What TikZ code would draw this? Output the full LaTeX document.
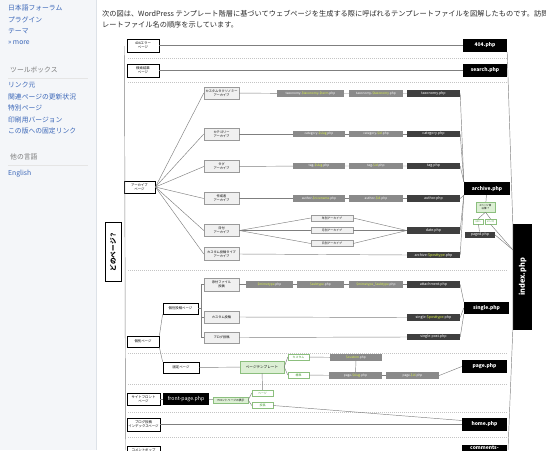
\documentclass[tikz,border=0pt]{standalone}
\usepackage{fontspec}
\setmainfont{Noto Sans CJK JP}
\usetikzlibrary{calc}

\definecolor{sidebg}{HTML}{F4F6F9}
\definecolor{sideline}{HTML}{DDE2E8}
\definecolor{linkblue}{HTML}{3A66B8}
\definecolor{headgray}{HTML}{7A7A7A}
\definecolor{introcolor}{HTML}{2A2A2A}
\definecolor{linegray}{HTML}{7F7F7F}
\definecolor{sepgray}{HTML}{C4C4C4}
\definecolor{tpldark}{HTML}{3F3F3F}
\definecolor{tplgray}{HTML}{8A8A8A}
\definecolor{varyellow}{HTML}{DDF54A}
\definecolor{subfill}{HTML}{F0F0F0}
\definecolor{subdraw}{HTML}{9A9A9A}
\definecolor{greenfill}{HTML}{DCEFD4}
\definecolor{greendraw}{HTML}{8CBF7E}
\definecolor{greentext}{HTML}{3F9A2E}

\newcommand\vpart[1]{\textcolor{varyellow}{#1}}

\tikzset{
	conn/.style={draw=linegray, line width=0.45pt},
	sep/.style={draw=sepgray, line width=0.5pt, dash pattern=on 1pt off 1pt},
	sidelink/.style={anchor=west, inner sep=0pt, text=linkblue, font=\fontsize{6.8}{8}\selectfont},
	sidehead/.style={anchor=west, inner sep=0pt, text=headgray, font=\fontsize{6.8}{8}\selectfont},
	introline/.style={anchor=west, inner sep=0pt, text=introcolor, font=\fontsize{7.2}{8}\selectfont},
	pagebox/.style={draw=black, line width=0.8pt, fill=white, minimum width=32, minimum height=13, inner sep=0pt, align=center, font=\fontsize{3.4}{3.9}\selectfont},
	tplbox/.style={fill=black, text=white, minimum width=45, minimum height=13, inner sep=0pt, font=\fontsize{5}{6}\selectfont\bfseries},
	subbox/.style={draw=subdraw, line width=0.4pt, fill=subfill, minimum width=35, minimum height=12, inner sep=0pt, align=center, font=\fontsize{3.2}{3.7}\selectfont},
	varbox/.style={fill=tplgray, text=white, minimum height=6.5, inner sep=0pt, font=\fontsize{3.2}{3.6}\selectfont},
	endbox/.style={fill=tpldark, text=white, minimum width=53, minimum height=6.5, inner sep=0pt, font=\fontsize{3.6}{4}\selectfont},
	choicebox/.style={draw=greendraw, line width=0.4pt, fill=greenfill, inner sep=0pt, align=center, font=\fontsize{3.2}{3.7}\selectfont},
	answer/.style={draw=greendraw, line width=0.4pt, fill=white, text=greentext, minimum width=21, minimum height=6, inner sep=0pt, font=\fontsize{2.9}{3.2}\selectfont},
}

\begin{document}
\begin{tikzpicture}[x=1pt, y=-1pt]
	\useasboundingbox (0, 0) rectangle (546, 450);
	\clip (0, 0) rectangle (546, 450);

	% side bar
	\fill[sidebg] (0, 0) rectangle (96, 450);
	\draw[sideline, line width=0.6pt] (96, 0) -- (96, 450);
	\draw (8, 8) 		node[sidelink] 	(lforum) 	{日本語フォーラム};
	\draw (8, 20) 		node[sidelink] 	(lplugin) 	{プラグイン};
	\draw (8, 31.5) 	node[sidelink] 	(ltheme) 	{テーマ};
	\draw (8, 43) 		node[sidelink] 	(lmore) 	{» more};
	\draw (10, 70) 		node[sidehead] 	(htools) 	{ツールボックス};
	\draw[gray!20, line width=0.4pt] (8, 78) -- (88, 78);
	\draw (8, 85) 		node[sidelink] 	(lwhat) 	{リンク元};
	\draw (8, 96.5) 	node[sidelink] 	(lrelated) 	{関連ページの更新状況};
	\draw (8, 108) 		node[sidelink] 	(lspecial) 	{特別ページ};
	\draw (8, 119.5) 	node[sidelink] 	(lprint) 	{印刷用バージョン};
	\draw (8, 131) 		node[sidelink] 	(lperma) 	{この版への固定リンク};
	\draw (10, 157) 	node[sidehead] 	(hlang) 	{他の言語};
	\draw[gray!20, line width=0.4pt] (8, 165) -- (88, 165);
	\draw (8, 174) 		node[sidelink] 	(lenglish) 	{English};

	% text above the chart
	\draw (102, 13.5) 	node[introline] (intro1) 	{次の図は、WordPress テンプレート階層に基づいてウェブページを生成する際に呼ばれるテンプレートファイルを図解したものです。訪問者が};
	\draw (102, 25) 	node[introline] (intro2) 	{レートファイル名の順序を示しています。};

	% separators
	\draw[sep] (128, 58) -- (507, 58);
	\draw[sep] (128, 82) -- (507, 82);
	\draw[sep] (128, 270) -- (507, 270);
	\draw[sep] (128, 353) -- (507, 353);
	\draw[sep] (128, 384) -- (507, 384);
	\draw[sep] (128, 412) -- (507, 412);
	\draw[sep] (128, 437) -- (507, 437);

	% left column
	\draw (113, 251.5) 	node[pagebox, rotate=90, minimum width=59, minimum height=16, font=\fontsize{6.6}{7}\selectfont\bfseries] (qwhich) {どのページ？};
	\draw (143, 45.5) 	node[pagebox] 	(p404) 		{404エラー\\ページ};
	\draw (143, 70.5) 	node[pagebox] 	(psearch) 	{検索結果\\ページ};
	\draw (139.5, 187) 	node[pagebox, minimum width=31, minimum height=12] (parchive) {アーカイブ\\ページ};
	\draw (143, 341.5) 	node[pagebox, minimum height=11] (psingular) {個別ページ};
	\draw (143.5, 399) 	node[pagebox, minimum width=33, minimum height=12] (pfront) {サイトフロント\\ページ};
	\draw (143.5, 424.5) node[pagebox, minimum width=33] (pblog) 	{ブログ投稿\\インデックスページ};
	\draw (143.5, 452.5) node[pagebox, minimum width=33] (pcomment) {コメントポップ\\アップページ};

	% right column
	\draw (485, 45.5) 	node[tplbox, minimum width=44] (t404) 		{404.php};
	\draw (485, 70.5) 	node[tplbox, minimum width=44] (tsearch) 	{search.php};
	\draw (487, 188.5) 	node[tplbox, minimum width=46] (tarchive) 	{archive.php};
	\draw (486.5, 308) 	node[tplbox, minimum height=12] (tsingle) 	{single.php};
	\draw (484.5, 366.5) node[tplbox] 	(tpage) 	{page.php};
	\draw (484.5, 424.5) node[tplbox] 	(thome) 	{home.php};
	\draw (484.5, 451.5) node[tplbox, align=center] (tcomments) {comments-\\popup.php};
	\draw (522.5, 277) 	node[tplbox, rotate=90, minimum width=106, minimum height=19, font=\fontsize{7.4}{8}\selectfont\bfseries] (tindex) {index.php};

	% archive pages
	\draw (221.5, 93) 	node[subbox] 	(ataxo) 	{カスタムタクソノミー\\アーカイブ};
	\draw (221.5, 134) 	node[subbox] 	(acat) 		{カテゴリー\\アーカイブ};
	\draw (221.5, 166.5) node[subbox] 	(atag) 		{タグ\\アーカイブ};
	\draw (221.5, 198.5) node[subbox] 	(aauthor) 	{作成者\\アーカイブ};
	\draw (221.5, 230.5) node[subbox] 	(adate) 	{日付\\アーカイブ};
	\draw (221.5, 254) 	node[subbox, minimum height=13] (aptype) {カスタム投稿タイプ\\アーカイブ};

	\draw (310.5, 93.5) node[varbox, minimum width=67] (vtaxterm) {taxonomy-\vpart{\$taxonomy}-\vpart{\$term}.php};
	\draw (376, 93.5) 	node[varbox, minimum width=54] (vtax) 		{taxonomy-\vpart{\$taxonomy}.php};
	\draw (433.5, 93.5) node[endbox] 	(etax) 		{taxonomy.php};
	\draw (319, 134) 	node[varbox, minimum width=52] (vcatslug) 	{category-\vpart{\$slug}.php};
	\draw (376, 134) 	node[varbox, minimum width=54] (vcatid) 	{category-\vpart{\$id}.php};
	\draw (433.5, 134) 	node[endbox] 	(ecat) 		{category.php};
	\draw (319, 166) 	node[varbox, minimum width=52] (vtagslug) 	{tag-\vpart{\$slug}.php};
	\draw (376, 166) 	node[varbox, minimum width=54] (vtagid) 	{tag-\vpart{\$id}.php};
	\draw (433.5, 166) 	node[endbox] 	(etag) 		{tag.php};
	\draw (319, 198.5) 	node[varbox, minimum width=52] (vauthnice) 	{author-\vpart{\$nicename}.php};
	\draw (376, 198.5) 	node[varbox, minimum width=54] (vauthid) 	{author-\vpart{\$id}.php};
	\draw (433.5, 198.5) node[endbox] 	(eauth) 	{author.php};
	\draw (332, 218) 	node[subbox, minimum width=42, minimum height=6, font=\fontsize{2.9}{3.2}\selectfont] (dyear) 	{年別アーカイブ};
	\draw (332, 230.5) 	node[subbox, minimum width=42, minimum height=6, font=\fontsize{2.9}{3.2}\selectfont] (dmonth) 	{月別アーカイブ};
	\draw (332, 243.5) 	node[subbox, minimum width=42, minimum height=6, font=\fontsize{2.9}{3.2}\selectfont] (dday) 	{日別アーカイブ};
	\draw (433.5, 230.5) node[endbox] 	(edate) 	{date.php};
	\draw (433.5, 255) 	node[endbox] 	(eptype) 	{archive-\vpart{\$posttype}.php};

	\draw (485.5, 207) 	node[choicebox, minimum width=19, minimum height=10, font=\fontsize{2.6}{3}\selectfont] (apagedq) {2ページ目\\以降？};
	\draw (478, 221.5) 	node[answer, minimum width=10, minimum height=5, font=\fontsize{2.5}{3}\selectfont] (ayes) {はい};
	\draw (490.5, 221.5) node[answer, minimum width=11, minimum height=5, font=\fontsize{2.5}{3}\selectfont] (ano) {いいえ};
	\draw (480, 235) 	node[endbox, minimum width=30] (tpaged) 	{paged.php};
	\coordinate (jindex) at (513, 250);

	% single pages
	\draw (180.5, 308.5) node[pagebox, minimum width=35, minimum height=11] (spost) {個別投稿ページ};
	\draw (221.5, 284.5) node[subbox, minimum height=13] (sattach) {添付ファイル\\投稿};
	\draw (221.5, 317) 	node[subbox] 	(scustom) 	{カスタム投稿};
	\draw (221.5, 337.5) node[subbox, minimum height=11] (sblog) {ブログ投稿};
	\draw (269.5, 284.5) node[varbox, minimum width=47] (mmime) 	{\vpart{\$mimetype}.php};
	\draw (320.5, 284.5) node[varbox, minimum width=47] (msub) 	{\vpart{\$subtype}.php};
	\draw (376, 284.5) 	node[varbox, minimum width=54] (mmimesub) 	{\vpart{\$mimetype}\_\vpart{\$subtype}.php};
	\draw (433.5, 284.5) node[endbox] 	(eattach) 	{attachment.php};
	\draw (433.5, 317.5) node[endbox] 	(esptype) 	{single-\vpart{\$posttype}.php};
	\draw (433.5, 337) 	node[endbox] 	(espost) 	{single-post.php};

	% static pages
	\draw (181, 367.5) 	node[pagebox, minimum width=36, minimum height=11] (ppage) {固定ページ};
	\draw (262, 367) 	node[choicebox, minimum width=44, minimum height=12, font=\fontsize{3.6}{4}\selectfont] (ptpl) {ページテンプレート};
	\draw (298.5, 357) 	node[answer] 	(pcust) 	{カスタム};
	\draw (298.5, 375) 	node[answer] 	(pstd) 		{標準};
	\draw (356, 357.5) 	node[varbox, minimum width=52] (vcustom) 	{\vpart{\$custom}.php};
	\draw (355.5, 375.5) node[varbox, minimum width=53] (vpslug) 	{page-\vpart{\$slug}.php};
	\draw (412.5, 375.5) node[varbox, minimum width=53] (vpid) 	{page-\vpart{\$id}.php};

	% front page
	\draw (186, 399) 	node[tplbox, minimum width=46, minimum height=12, font=\fontsize{5.2}{6}\selectfont] (tfront) {front-page.php};
	\draw (230.5, 400) 	node[choicebox, minimum width=35, minimum height=6, font=\fontsize{2.8}{3.2}\selectfont] (fdisp) {フロントページの表示};
	\draw (262.5, 393) 	node[answer] 	(fpage) 	{ページ};
	\draw (262.5, 405.5) node[answer] 	(fposts) 	{投稿};

	% trunks
	\coordinate (ltop) at (124.5, 46);
	\coordinate (lbot) at (125.5, 450);
	\coordinate (rbot) at (508, 450);
	\draw[conn] (ltop) -- (lbot);
	\draw[conn] (t404.south east) -- (tindex.north east) -- (tindex.north west) -- (rbot);

	\draw[conn] (p404) -- (t404);
	\draw[conn] (psearch) -- (tsearch);

	\draw[conn] (parchive.east) -- (ataxo.west);
	\draw[conn] (parchive.east) -- (acat.west);
	\draw[conn] (parchive.east) -- (atag.west);
	\draw[conn] (parchive.east) -- (aauthor.west);
	\draw[conn] (parchive.east) -- (adate.west);
	\draw[conn] (parchive.east) -- (aptype.west);

	\draw[conn] (ataxo) -- (vtaxterm) -- (vtax) -- (etax);
	\draw[conn] (acat) -- (vcatslug) -- (vcatid) -- (ecat);
	\draw[conn] (atag) -- (vtagslug) -- (vtagid) -- (etag);
	\draw[conn] (aauthor) -- (vauthnice) -- (vauthid) -- (eauth);
	\draw[conn] (adate.east) -- (dyear.west);
	\draw[conn] (adate.east) -- (dmonth.west);
	\draw[conn] (adate.east) -- (dday.west);
	\draw[conn] (dyear.east) -- (edate.west);
	\draw[conn] (dmonth.east) -- (edate.west);
	\draw[conn] (dday.east) -- (edate.west);
	\draw[conn] (aptype.east) -- (eptype.west);

	\draw[conn] (etax.east) -- (tarchive.north west);
	\draw[conn] (ecat.east) -- (tarchive.north west);
	\draw[conn] (etag.east) -- (tarchive.north west);
	\draw[conn] (eauth.east) -- (tarchive.south west);
	\draw[conn] (edate.east) -- (tarchive.south west);
	\draw[conn] (eptype.east) -- (tarchive.south west);

	\draw[conn] (tarchive) -- (apagedq);
	\draw[conn] (apagedq.south) -- (ayes.north);
	\draw[conn] (apagedq.south) -- (ano.north);
	\draw[conn] (ayes) -- (tpaged);
	\draw[conn] (tpaged.east) -- (jindex);
	\draw[conn] (ano.south) -- (jindex);

	\draw[conn] (psingular.north east) -- (spost.south west);
	\draw[conn] (psingular.south east) -- (ppage.north west);
	\draw[conn] (spost.east) -- ++(3, 0) |- (sattach.west);
	\draw[conn] (spost.east) -- ++(3, 0) |- (scustom.west);
	\draw[conn] (spost.east) -- ++(3, 0) |- (sblog.west);
	\draw[conn] (sattach) -- (mmime) -- (msub) -- (mmimesub) -- (eattach);
	\draw[conn] (scustom.east) -- (esptype.west);
	\draw[conn] (sblog.east) -- (espost.west);
	\draw[conn] (eattach.east) -- (tsingle.north west);
	\draw[conn] (esptype.east) -- (tsingle.west);
	\draw[conn] (espost.east) -- (tsingle.south west);

	\draw[conn] (ppage) -- (ptpl);
	\draw[conn] (ptpl.east) -- (pcust.west);
	\draw[conn] (ptpl.east) -- (pstd.west);
	\draw[conn] (pcust) -- (vcustom);
	\draw[conn] (pstd) -- (vpslug);
	\draw[conn] (vcustom) -- (vpslug);
	\draw[conn] (vpslug) -- (vpid);
	\draw[conn] (vpid.east) -- (tpage.west);

	\draw[conn] (pfront) -- (tfront);
	\draw[conn] (tfront) -- (fdisp);
	\draw[conn] (fdisp.east) -- (fpage.west);
	\draw[conn] (fdisp.east) -- (fposts.west);
	\draw[conn] (fpage) -- (ptpl);
	\draw[conn] (fposts.east) -- (thome.170);
	\draw[conn] (pblog) -- (thome);
	\draw[conn] (pcomment) -- (tcomments);
\end{tikzpicture}
\end{document}
